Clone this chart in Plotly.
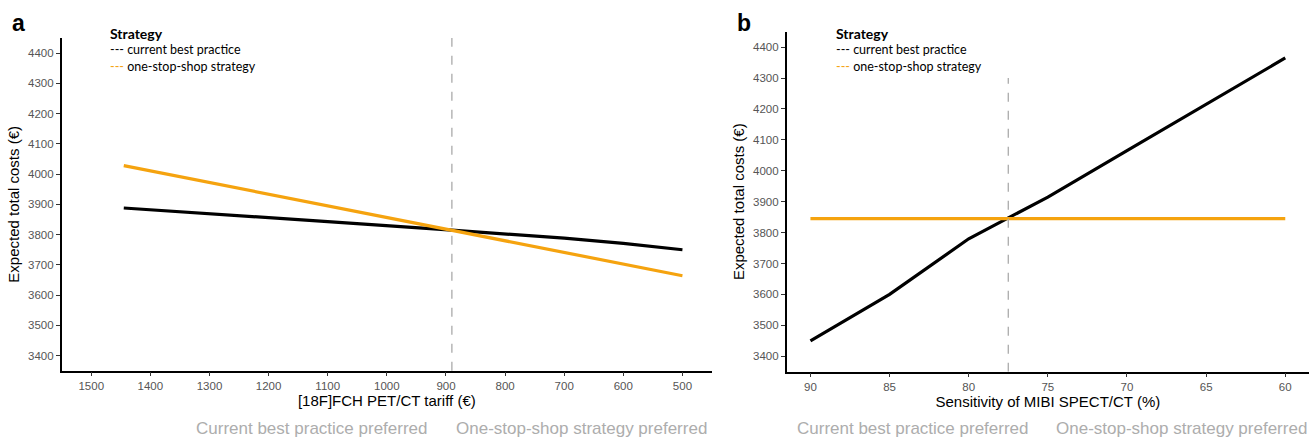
import plotly.graph_objects as go

# ---- data ----
tariff = [1445, 1300, 1100, 890, 700, 600, 500]
cost_cbp_tariff = [3888, 3868, 3843, 3815, 3788, 3771, 3750]
cost_oss_tariff = [4028, 3972, 3895, 3814, 3741, 3703, 3664]
threshold_tariff = 890

sensitivity = [90, 85, 80, 75, 70, 65, 60]
cost_cbp_sens = [3450, 3600, 3780, 3915, 4065, 4215, 4365]
cost_oss_sens = [3845, 3845, 3845, 3845, 3845, 3845, 3845]
threshold_sens = 77.5

strategies = ["current best practice", "one-stop-shop strategy"]
colors = ["#000000", "#F5A30F"]

W, H = 1309, 438
def px(x):
    return x / W
def py(y):
    return 1 - y / H

fig = go.Figure()
fig.add_trace(go.Scatter(x=tariff, y=cost_cbp_tariff, mode="lines", name=strategies[0],
                         line=dict(color=colors[0], width=3.2), xaxis="x", yaxis="y", showlegend=False))
fig.add_trace(go.Scatter(x=tariff, y=cost_oss_tariff, mode="lines", name=strategies[1],
                         line=dict(color=colors[1], width=3.2), xaxis="x", yaxis="y", showlegend=False))
fig.add_trace(go.Scatter(x=sensitivity, y=cost_cbp_sens, mode="lines", name=strategies[0],
                         line=dict(color=colors[0], width=3.2), xaxis="x2", yaxis="y2", showlegend=False))
fig.add_trace(go.Scatter(x=sensitivity, y=cost_oss_sens, mode="lines", name=strategies[1],
                         line=dict(color=colors[1], width=3.2), xaxis="x2", yaxis="y2", showlegend=False))

tickfont = dict(family="Liberation Sans, Arial", size=11.5, color="#555555")
titlefont = dict(family="Liberation Sans, Arial", size=15, color="#000000")
axis_common = dict(showgrid=False, zeroline=False, showline=True, linecolor="#000000", linewidth=1.5,
                   ticks="outside", ticklen=4, tickwidth=1, tickcolor="#333333", tickfont=tickfont,
                   title_font=titlefont)

fig.update_layout(
    width=W, height=H, margin=dict(l=0, r=0, t=0, b=0),
    paper_bgcolor="white", plot_bgcolor="white",
    xaxis=dict(domain=[px(61.7), px(712)], range=[1550, 450], tickvals=list(range(1500, 400, -100)),
               anchor="y", title=dict(text="[18F]FCH PET/CT tariff (€)", standoff=3), **axis_common),
    yaxis=dict(domain=[py(370.7), py(38)], range=[3350, 4450], tickvals=list(range(3400, 4500, 100)),
               anchor="x", title=dict(text="Expected total costs (€)", standoff=5), **axis_common),
    xaxis2=dict(domain=[px(786.7), 1.0], range=[91.5, 58.5], tickvals=[90, 85, 80, 75, 70, 65, 60],
                anchor="y2", title=dict(text="Sensitivity of MIBI SPECT/CT (%)", standoff=3), **axis_common),
    yaxis2=dict(domain=[py(371.7), py(31.7)], range=[3350, 4450], tickvals=list(range(3400, 4500, 100)),
                anchor="x2", title=dict(text="Expected total costs (€)", standoff=5), **axis_common),
)

fig.add_shape(type="line", xref="x", yref="y domain", x0=threshold_tariff, x1=threshold_tariff, y0=0, y1=1,
              line=dict(color="#AAAAAA", width=1.3, dash="dash"))
fig.add_shape(type="line", xref="x2", yref="y2", x0=threshold_sens, x1=threshold_sens, y0=3350, y1=4300,
              line=dict(color="#AAAAAA", width=1.3, dash="dash"))

legfont = "Lato, Open Sans, sans-serif"
def legend(x0):
    fig.add_annotation(x=px(x0), y=py(34), xref="paper", yref="paper", xanchor="left", yanchor="middle",
                       text="<b>Strategy</b>", showarrow=False, font=dict(family=legfont, size=14, color="#000"))
    for i, (s, c) in enumerate(zip(strategies, colors)):
        fig.add_annotation(x=px(x0), y=py(50 + 16.5 * i), xref="paper", yref="paper", xanchor="left",
                           yanchor="middle", showarrow=False,
                           text=f"<span style='color:{c}'>---</span> {s}",
                           font=dict(family=legfont, size=12.5, color="#000"))
legend(108)
legend(834)

for x, t in [(18, "a"), (744, "b")]:
    fig.add_annotation(x=px(x), y=py(23), xref="paper", yref="paper", xanchor="center", yanchor="middle",
                       text=f"<b>{t}</b>", showarrow=False,
                       font=dict(family="Liberation Sans, Arial", size=23, color="#000"))

grey = dict(family="Liberation Sans, Arial", size=17, color="#ADADAD")
for xr, xl in [(430, 454), (1031, 1054)]:
    fig.add_annotation(x=px(xr), y=py(428), xref="paper", yref="paper", xanchor="right", yanchor="middle",
                       text="Current best practice preferred", showarrow=False, font=grey)
    fig.add_annotation(x=px(xl), y=py(428), xref="paper", yref="paper", xanchor="left", yanchor="middle",
                       text="One-stop-shop strategy preferred", showarrow=False, font=grey)

fig.write_html("out.html", config={"displayModeBar": False},
               post_script="document.body.style.margin='0px';document.body.style.overflow='hidden';")
